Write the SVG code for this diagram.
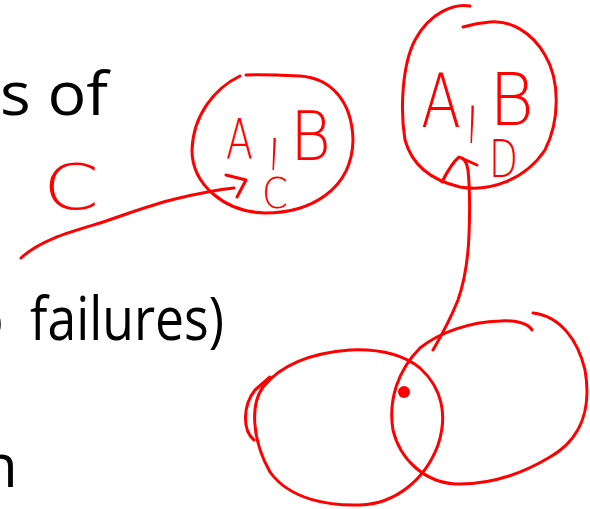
<svg xmlns="http://www.w3.org/2000/svg" width="590" height="509" viewBox="0 0 590 509">
<style>
.ink{fill:none;stroke:#ff0000;stroke-width:3;stroke-linecap:round;stroke-linejoin:round}
.hw{fill:#ff0000;font-family:"DejaVu Sans","Liberation Sans",sans-serif;font-weight:200}
.slide{fill:#000;font-family:"Open Sans","Noto Sans",sans-serif;font-size:60px}
</style>
<rect width="590" height="509" fill="#fff"/>
<g id="slide-text">
<text class="slide" x="0" y="115" textLength="108" lengthAdjust="spacingAndGlyphs">s of</text>
<text class="slide" x="-32" y="340">o</text>
<text class="slide" x="30" y="340" textLength="194" lengthAdjust="spacingAndGlyphs">failures)</text>
<text class="slide" x="-19" y="487">n</text>
</g>
<g id="note-c">
<text class="hw" x="43" y="209" font-size="62" textLength="56" lengthAdjust="spacingAndGlyphs">C</text>
</g>
<g id="set-abc">
<path class="ink" d="M240,76 C215,88 193,115 192,150 C192,185 225,212 265,213 C310,213 352,190 353,140 C352,100 330,78 300,76 C280,75 260,74 246,75"/>
<text class="hw" x="226" y="158" font-size="55" textLength="27" lengthAdjust="spacingAndGlyphs">A</text>
<text class="hw" transform="translate(267,149) scale(0.8,3)" font-size="60">,</text>
<text class="hw" x="290" y="160" font-size="68" textLength="41" lengthAdjust="spacingAndGlyphs">B</text>
<text class="hw" x="262" y="208" font-size="43" textLength="26" lengthAdjust="spacingAndGlyphs">C</text>
</g>
<g id="set-abd">
<path class="ink" d="M470,6 C455,3 430,12 415,40 C402,65 400,110 405,140 C412,165 430,180 460,187 C490,192 525,180 545,150 C560,120 560,80 545,55 C532,32 510,20 490,22 C478,23 470,25 463,27"/>
<text class="hw" x="421" y="127" font-size="75" textLength="40" lengthAdjust="spacingAndGlyphs">A</text>
<text class="hw" transform="translate(465,119) scale(0.8,3.5)" font-size="60">,</text>
<text class="hw" x="489" y="125" font-size="73" textLength="45" lengthAdjust="spacingAndGlyphs">B</text>
<text class="hw" x="489" y="177" font-size="51" textLength="29" lengthAdjust="spacingAndGlyphs">D</text>
</g>
<g id="venn">
<path class="ink" d="M254,440 C242,430 243,405 255,390 L270,377"/>
<path class="ink" d="M263,387 C250,405 252,440 270,472 C290,500 330,506 360,505 C395,504 425,480 438,445 C448,415 442,388 420,368 C400,352 375,349 350,350 C310,353 280,366 263,387"/>
<path class="ink" d="M533,313 C560,316 578,340 585,370 C592,410 580,440 550,457 C520,475 490,485 455,484 C425,482 400,460 393,430 C388,400 398,370 420,348 C440,332 470,322 500,321 C515,320 528,323 532,330"/>
<circle cx="404" cy="392" r="6" fill="#ff0000"/>
</g>
<g id="connectors">
<path class="ink" d="M21,258 C40,240 70,232 100,223 C130,213 150,205 175,199 C200,193 215,190 234,188"/>
<path class="ink" d="M226,175 L246,180 L237,197"/>
<path class="ink" d="M433,350 C440,338 452,315 458,300 C465,280 468,260 469,235 C470,210 470,190 468,170 C467,163 465,160 462,158"/>
<path class="ink" d="M442,182 C448,170 453,162 459,157 L477,165"/>
</g>
</svg>
